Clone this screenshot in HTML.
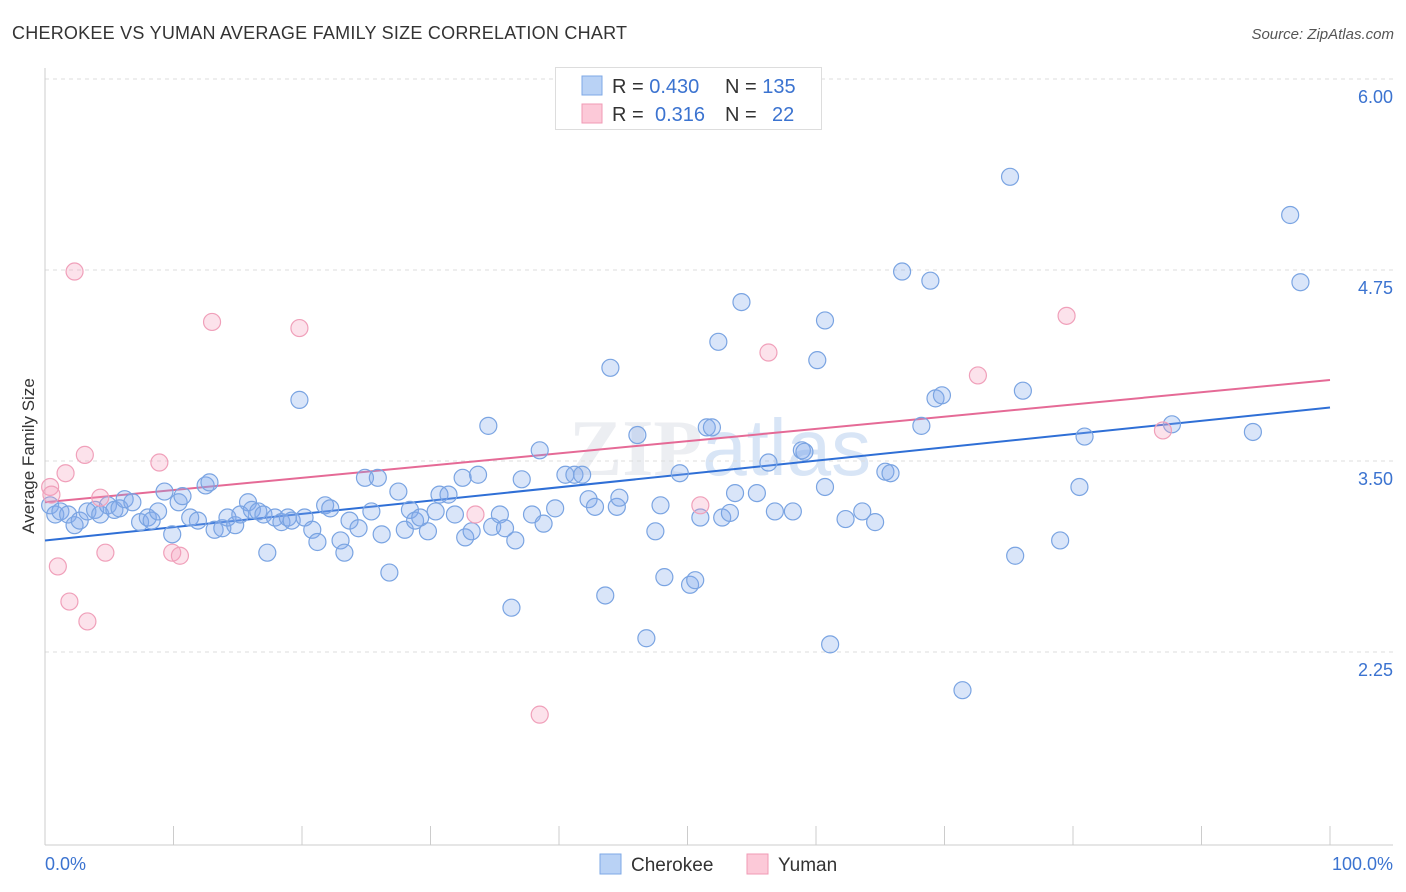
<!DOCTYPE html>
<html><head><meta charset="utf-8"><style>
body{margin:0;background:#fff;font-family:"Liberation Sans",sans-serif;}
svg{display:block}
</style></head><body>
<svg id="c" width="1406" height="892" xmlns="http://www.w3.org/2000/svg">
<text x="12" y="39" font-size="18" fill="#333" textLength="615">CHEROKEE VS YUMAN AVERAGE FAMILY SIZE CORRELATION CHART</text>
<text x="1394" y="39" font-size="15" fill="#555" font-style="italic" text-anchor="end">Source: ZipAtlas.com</text>
<text x="720" y="475" font-size="80" fill="#eceef2" text-anchor="middle" font-weight="bold" font-family="Liberation Serif,serif">ZIP<tspan fill="#d8e5f6" font-family="Liberation Sans,sans-serif" font-weight="normal">atlas</tspan></text>
<g id="grid"></g>
<g id="axes"></g>
<g id="trend"></g>
<g id="pts"></g>
<text transform="translate(34,456) rotate(-90)" font-size="17" fill="#333" text-anchor="middle">Average Family Size</text>
<text x="45" y="870" font-size="18" fill="#3b73d0">0.0%</text>
<text x="1393" y="870" font-size="18" fill="#3b73d0" text-anchor="end">100.0%</text>
<g>
<rect x="555.5" y="67.5" width="266" height="62" fill="#fff" stroke="#ddd"/>
<rect x="582" y="76" width="20" height="19" fill="#b9d2f5" stroke="#7ea8e6"/>
<rect x="582" y="104" width="20" height="19" fill="#fcc9d8" stroke="#f09ab5"/>
<text x="612" y="93" font-size="20" fill="#333">R = <tspan fill="#3b73d0">0.430</tspan><tspan x="725">N = </tspan><tspan fill="#3b73d0">135</tspan></text>
<text x="612" y="121" font-size="20" fill="#333">R = <tspan x="655" fill="#3b73d0">0.316</tspan><tspan x="725">N = </tspan><tspan x="772" fill="#3b73d0">22</tspan></text>
</g>
<g>
<rect x="600" y="854" width="21" height="20" fill="#b9d2f5" stroke="#7ea8e6"/>
<text x="631" y="871" font-size="19" fill="#333">Cherokee</text>
<rect x="747" y="854" width="21" height="20" fill="#fcc9d8" stroke="#f09ab5"/>
<text x="778" y="871" font-size="19" fill="#333">Yuman</text>
</g>
</svg>
<script>
const yTicks=[6.00,4.75,3.50,2.25];
const yTickLabels=["6.00","4.75","3.50","2.25"];
const xTicks=[0,10,20,30,40,50,60,70,80,90,100];
const cherokeeX=[0.4,0.8,1.2,1.8,2.3,2.7,3.3,3.9,4.3,4.9,5.4,5.8,6.2,6.8,7.4,8.0,8.3,8.8,9.3,9.9,10.4,10.7,11.3,11.9,12.5,12.8,13.2,13.8,14.2,14.8,15.2,15.8,16.1,16.6,17.0,17.3,17.9,18.4,18.9,19.2,19.8,20.2,20.8,21.2,21.8,22.2,23.0,23.3,23.7,24.4,24.9,25.4,25.9,26.2,26.8,27.5,28.0,28.4,28.8,29.2,29.8,30.4,30.7,31.4,31.9,32.5,32.7,33.2,33.7,34.5,34.8,35.4,35.8,36.3,36.6,37.1,37.9,38.5,38.8,39.7,40.5,41.2,41.8,42.3,42.8,43.6,44.0,44.5,44.7,46.1,46.8,47.5,47.9,48.2,49.4,50.2,50.6,51.0,51.5,51.9,52.4,52.7,53.3,53.7,54.2,55.4,56.3,56.8,58.2,58.9,59.1,60.1,60.7,60.7,61.1,62.3,63.6,64.6,65.4,65.8,66.7,68.2,68.9,69.3,69.8,71.4,75.1,75.5,76.1,79.0,80.5,80.9,87.7,94.0,96.9,97.7];
const cherokeeY=[3.21,3.15,3.17,3.15,3.08,3.11,3.17,3.18,3.15,3.21,3.18,3.19,3.25,3.23,3.10,3.13,3.11,3.17,3.30,3.02,3.23,3.27,3.13,3.11,3.34,3.36,3.05,3.06,3.13,3.08,3.15,3.23,3.18,3.17,3.15,2.90,3.13,3.10,3.13,3.11,3.90,3.13,3.05,2.97,3.21,3.19,2.98,2.90,3.11,3.06,3.39,3.17,3.39,3.02,2.77,3.30,3.05,3.18,3.11,3.13,3.04,3.17,3.28,3.28,3.15,3.39,3.00,3.04,3.41,3.73,3.07,3.15,3.06,2.54,2.98,3.38,3.15,3.57,3.09,3.19,3.41,3.41,3.41,3.25,3.20,2.62,4.11,3.20,3.26,3.67,2.34,3.04,3.21,2.74,3.42,2.69,2.72,3.13,3.72,3.72,4.28,3.13,3.16,3.29,4.54,3.29,3.49,3.17,3.17,3.57,3.56,4.16,3.33,4.42,2.30,3.12,3.17,3.10,3.43,3.42,4.74,3.73,4.68,3.91,3.93,2.00,5.36,2.88,3.96,2.98,3.33,3.66,3.74,3.69,5.11,4.67];
const yumanX=[0.4,0.5,1.0,1.6,1.9,2.3,3.1,3.3,4.3,4.7,8.9,9.9,10.5,13.0,19.8,33.5,38.5,51.0,56.3,72.6,79.5,87.0];
const yumanY=[3.33,3.28,2.81,3.42,2.58,4.74,3.54,2.45,3.26,2.90,3.49,2.90,2.88,4.41,4.37,3.15,1.84,3.21,4.21,4.06,4.45,3.70];
const cherokeeTrend=[2.98,3.85];
const yumanTrend=[3.23,4.03];
const NS="http://www.w3.org/2000/svg";
const xs=p=>45+p*12.85;
const ys=v=>79+(6-v)*152.8;
function mk(tag,attrs,parent){const e=document.createElementNS(NS,tag);for(const k in attrs)e.setAttribute(k,attrs[k]);document.getElementById(parent).appendChild(e);return e;}
yTicks.forEach((t,i)=>{
 const l=mk('line',{x1:45,x2:1393,y1:ys(t),y2:ys(t),stroke:'#ddd','stroke-dasharray':'4,4'},'grid');
 
 
 const tx=mk('text',{x:1393,y:ys(t)+24,'font-size':18,fill:'#3b73d0','text-anchor':'end'},'grid');
 tx.textContent=yTickLabels[i];
 
 
});
const ax=mk('line',{x1:45,x2:1393,y1:845,y2:845,stroke:'#ccc'},'axes');


const ay=mk('line',{x1:45,x2:45,y1:68,y2:845,stroke:'#ccc'},'axes');


xTicks.forEach(t=>{
 const l=mk('line',{x1:xs(t),x2:xs(t),y1:826,y2:845,stroke:'#ccc'},'axes');
 
 
});
function pts(X,Y,fill,stroke,name){
 X.forEach((x,i)=>{
  const c=mk('circle',{cx:xs(x),cy:ys(Y[i]),r:8.5,fill:fill,stroke:stroke,'stroke-width':1.2},'pts');
  
  
 });
}
pts(cherokeeX,cherokeeY,'rgba(130,170,235,0.3)','#7aa4e2','cherokee-point');
pts(yumanX,yumanY,'rgba(245,160,190,0.3)','#f0a0ba','yuman-point');
const t1=mk('line',{x1:xs(0),x2:xs(100),y1:ys(cherokeeTrend[0]),y2:ys(cherokeeTrend[1]),stroke:'#2f6fd6','stroke-width':2},'trend');


const t2=mk('line',{x1:xs(0),x2:xs(100),y1:ys(yumanTrend[0]),y2:ys(yumanTrend[1]),stroke:'#e56a96','stroke-width':2},'trend');


</script>
</body></html>
